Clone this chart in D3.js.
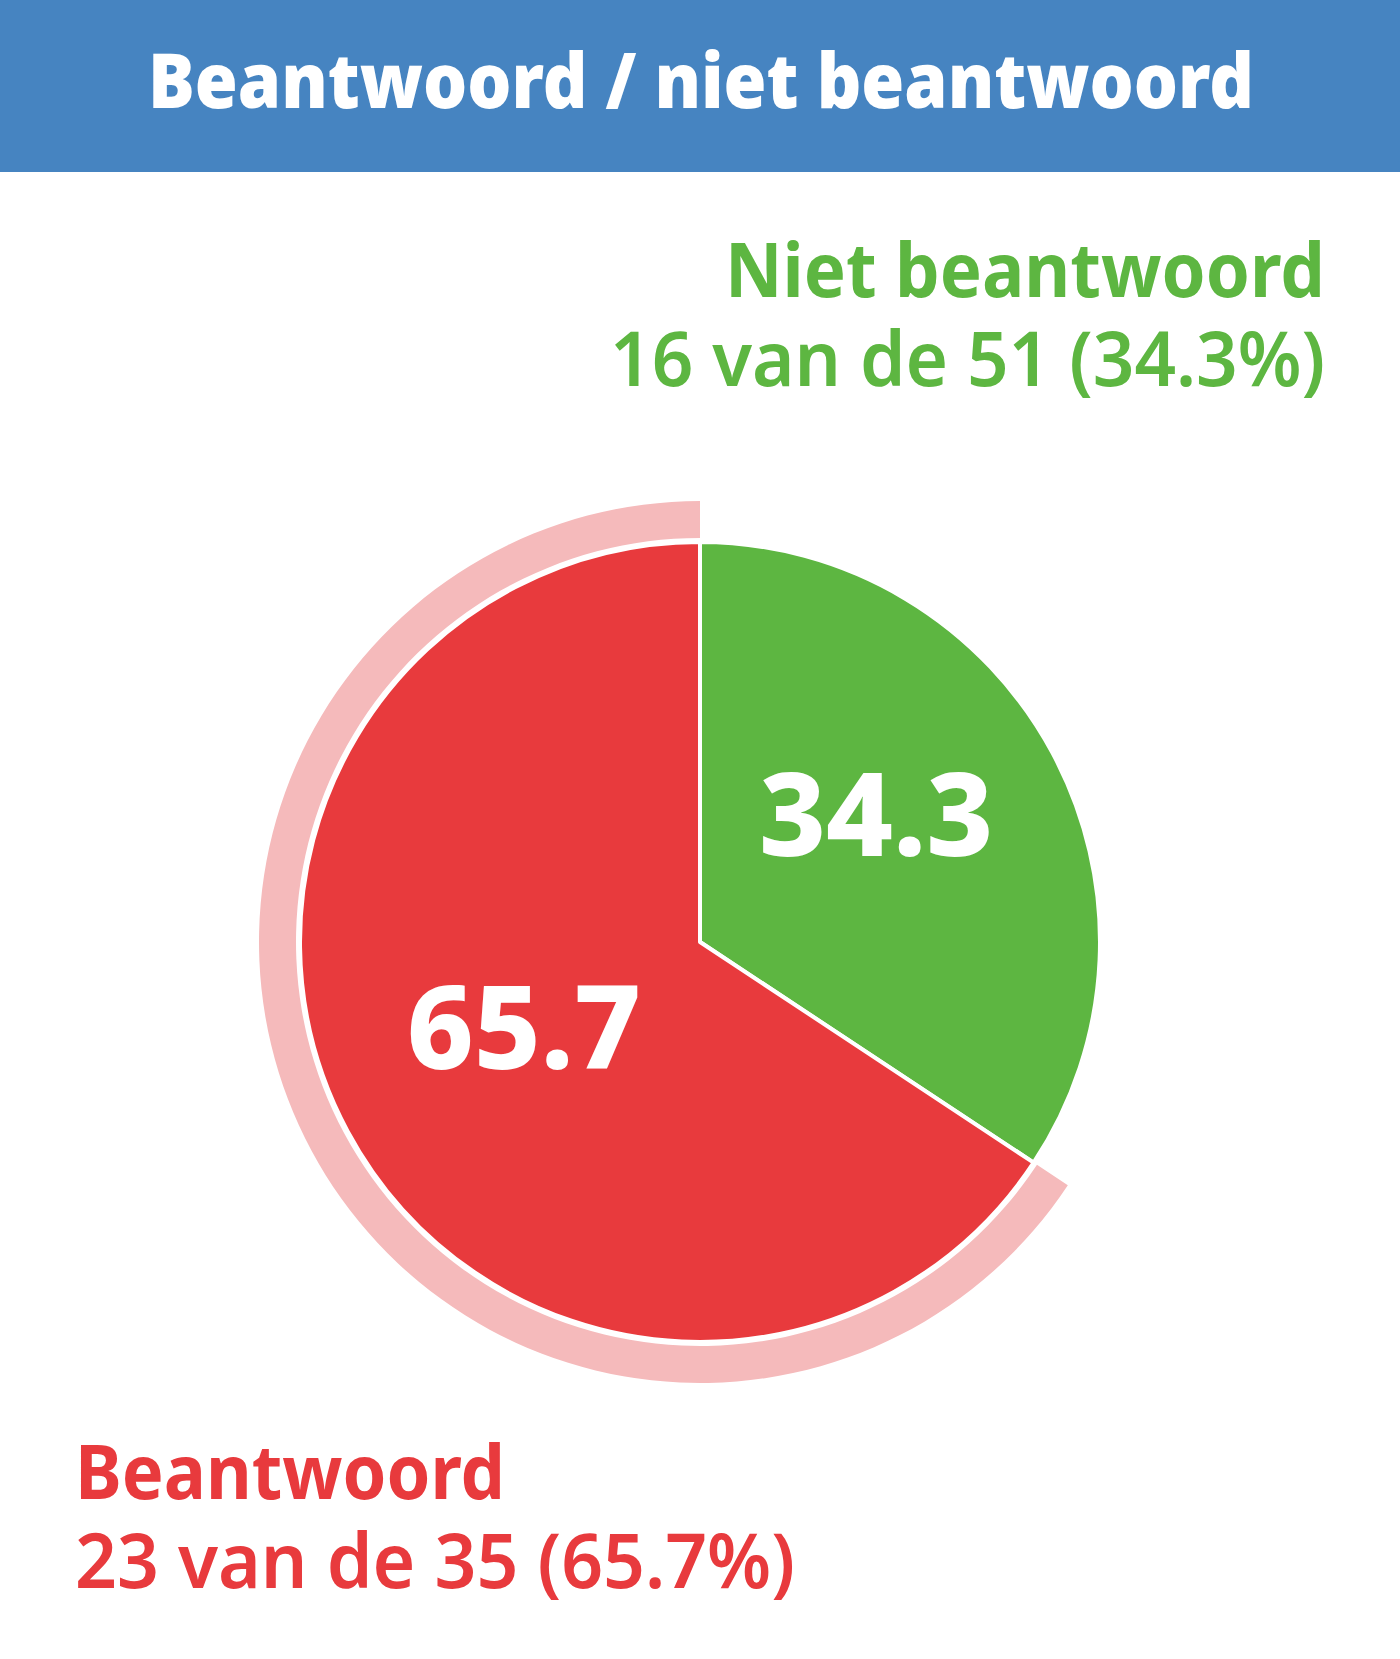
<!DOCTYPE html>
<html>
<head>
<meta charset="utf-8">
<script src="https://cdn.jsdelivr.net/npm/d3@7"></script>
<style>
  html, body { margin: 0; padding: 0; background: #fff; }
  text { font-family: "Noto Sans", "Open Sans", sans-serif; font-weight: 700; }
</style>
</head>
<body>
<div id="chart"></div>
<script>
// ---------------------------//
//          DATA              //
// ---------------------------//
const title = "Beantwoord / niet beantwoord";
const categories = ["Niet beantwoord", "Beantwoord"];
const counts = [16, 23];
const totals = [51, 35];
const percents = [34.3, 65.7];
const colors = ["#5db641", "#e83a3d"];
const highlightColor = "#f5babb";

// ---------------------------//
//        SET CANVAS          //
// ---------------------------//
const width = 1400, height = 1659;
const svg = d3.select("#chart")
    .append("svg")
    .attr("width", width)
    .attr("height", height);

// Header bar
svg.append("rect")
    .attr("x", 0).attr("y", 0)
    .attr("width", width).attr("height", 172)
    .attr("fill", "#4684c1");

svg.append("text")
    .attr("x", 701)
    .attr("y", 108)
    .attr("text-anchor", "middle")
    .attr("textLength", 1106)
    .attr("lengthAdjust", "spacingAndGlyphs")
    .style("font-size", "77px")
    .style("font-weight", 900)
    .attr("fill", "#fff")
    .text(title);

// ---------------------------//
//           PIE              //
// ---------------------------//
const cx = 700, cy = 942, radius = 400;
const g = svg.append("g").attr("transform", `translate(${cx},${cy})`);

const data = categories.map((c, i) => ({
    name: c, value: percents[i], count: counts[i], total: totals[i], color: colors[i]
}));

const pie = d3.pie().sort(null).value(d => d.value);
const arcs = pie(data);

const arc = d3.arc().innerRadius(0).outerRadius(radius);
const ring = d3.arc().innerRadius(radius + 4).outerRadius(radius + 41);

// highlight ring round the selected slice (Beantwoord)
g.append("path")
    .attr("d", ring(arcs[1]))
    .attr("fill", highlightColor);

g.selectAll(".slice")
    .data(arcs)
    .enter()
    .append("path")
    .attr("class", "slice")
    .attr("d", arc)
    .attr("fill", d => d.data.color)
    .attr("stroke", "#fff")
    .attr("stroke-width", 4)
    .attr("stroke-linejoin", "round");

// value labels in the slices
const nudge = [-36, -13];
g.selectAll(".value")
    .data(arcs)
    .enter()
    .append("text")
    .attr("class", "value")
    .attr("x", d => arc.centroid(d)[0])
    .attr("y", (d, i) => arc.centroid(d)[1] + nudge[i])
    .attr("text-anchor", "middle")
    .attr("dominant-baseline", "central")
    .style("font-size", "116px")
    .style("font-weight", 800)
    .attr("fill", "#fff")
    .text(d => d3.format(".1f")(d.data.value));

// ---------------------------//
//         LEGEND TEXT        //
// ---------------------------//
const legend = [
    {d: data[0], x: 1325, y: 297, anchor: "end", w1: 600, w2: 715},
    {d: data[1], x: 75, y: 1499, anchor: "start", w1: 430, w2: 720}
];

legend.forEach(l => {
    svg.append("text")
        .attr("x", l.x)
        .attr("y", l.y)
        .attr("text-anchor", l.anchor)
        .attr("textLength", l.w1)
        .attr("lengthAdjust", "spacingAndGlyphs")
        .style("font-size", "76px")
        .style("font-weight", 700)
        .attr("fill", l.d.color)
        .text(l.d.name);
    svg.append("text")
        .attr("x", l.x)
        .attr("y", l.y + 89)
        .attr("text-anchor", l.anchor)
        .attr("textLength", l.w2)
        .attr("lengthAdjust", "spacingAndGlyphs")
        .style("font-size", "76px")
        .style("font-weight", 600)
        .attr("fill", l.d.color)
        .text(`${l.d.count} van de ${l.d.total} (${l.d.value}%)`);
});
</script>
</body>
</html>
